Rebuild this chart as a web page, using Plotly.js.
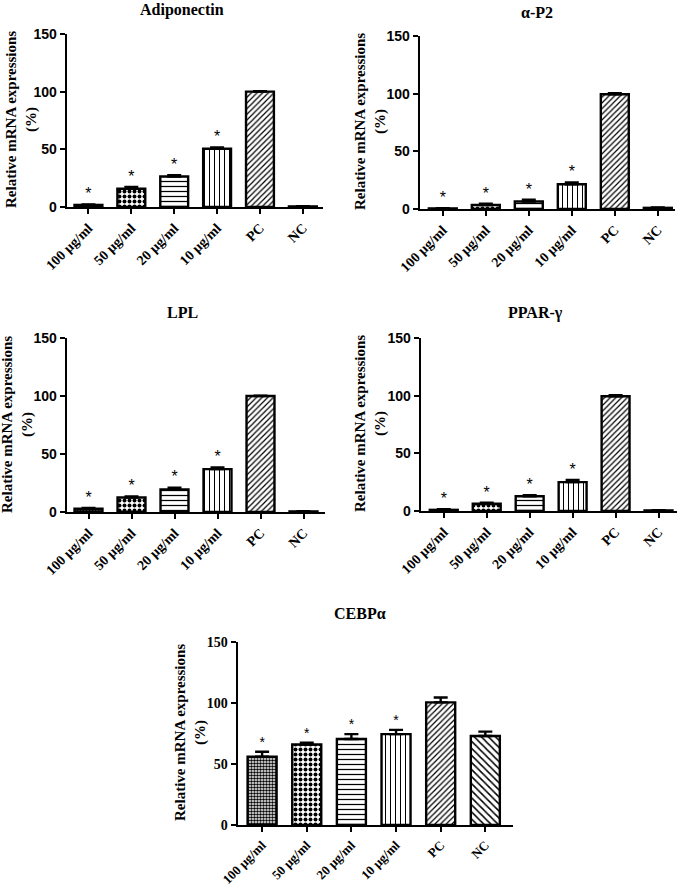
<!DOCTYPE html>
<html>
<head>
<meta charset="utf-8">
<script src="https://cdn.plot.ly/plotly-3.0.1.min.js"></script>
<style>
  html, body { margin: 0; padding: 0; background: #fff; }
  #chart { width: 685px; height: 887px; }
</style>
</head>
<body>
<div id="chart"></div>
<script>
// category labels shared by every panel
const categories = ["100 µg/ml", "50 µg/ml", "20 µg/ml", "10 µg/ml", "PC", "NC"];
const starLabels = ["*", "*", "*", "*", "", ""];

// values (% of PC) and upper error bars
const adiponectin = [1.8, 15.8, 26.5, 50.5, 100, 0.5];
const adiponectinErr = [0.4, 1.6, 1.0, 1.2, 0.5, 0.2];

const aP2 = [0.5, 3.5, 6.5, 21.5, 99.5, 1.0];
const aP2Err = [0.3, 1.0, 1.5, 1.5, 1.0, 0.3];

const lpl = [2.8, 12.5, 19.5, 37, 100, 0.5];
const lplErr = [0.6, 1.0, 1.5, 1.5, 0.3, 0.2];

const pparG = [1.0, 6.3, 12.8, 25.0, 99.5, 0.5];
const pparGErr = [0.5, 0.8, 1.0, 2.0, 1.0, 0.2];

const cebpa = [56, 66, 70.5, 74.5, 100.5, 73];
const cebpaErr = [4, 1.5, 4, 3.5, 4, 3.5];

const yTicks = [0, 50, 100, 150];

// fill patterns per category
const patShape = [".", ".", "-", "|", "/", "\\"];
const patSize = [3, 5, 5, 5, 4, 5];
const patSolid = [0.55, 0.5, 0.25, 0.2, 0.3, 0.3];

const serif = "Liberation Serif";
const sans = "Liberation Sans";

function barTrace(vals, errs, n) {
  return {
    type: "bar",
    x: categories,
    y: vals,
    xaxis: "x" + (n === 1 ? "" : n),
    yaxis: "y" + (n === 1 ? "" : n),
    width: 0.65,
    marker: {
      color: "white",
      line: { color: "black", width: 2.4 },
      pattern: {
        shape: patShape,
        size: patSize,
        solidity: patSolid,
        fgcolor: "black",
        bgcolor: "white",
        fgopacity: 1,
        fillmode: "overlay",
      },
    },
    error_y: {
      type: "data",
      symmetric: false,
      array: errs,
      arrayminus: errs.map(() => 0),
      color: "black",
      thickness: 2.4,
      width: 7,
    },
    hoverinfo: "skip",
    showlegend: false,
  };
}

function starTrace(vals, errs, n, size) {
  return {
    type: "scatter",
    mode: "text",
    x: categories,
    y: vals.map((v, i) => v + errs[i] + 1),
    text: starLabels,
    textposition: "top center",
    textfont: { family: sans, size: size, color: "black" },
    xaxis: "x" + (n === 1 ? "" : n),
    yaxis: "y" + (n === 1 ? "" : n),
    cliponaxis: false,
    hoverinfo: "skip",
    showlegend: false,
  };
}

function xAxis(domain, range, anchor, fontSize) {
  return {
    domain: domain,
    range: range,
    anchor: anchor,
    type: "category",
    showline: true,
    linewidth: 2.4,
    linecolor: "black",
    ticks: "outside",
    ticklen: 5,
    tickwidth: 2,
    tickcolor: "black",
    tickangle: -45,
    tickfont: { family: serif, size: fontSize, color: "black", weight: "bold" },
    showgrid: false,
    zeroline: false,
    fixedrange: true,
  };
}

function yAxis(domain, anchor, fontFamily) {
  return {
    domain: domain,
    anchor: anchor,
    range: [0, 150],
    tickvals: yTicks,
    showline: true,
    linewidth: 2.4,
    linecolor: "black",
    ticks: "outside",
    ticklen: 5,
    tickwidth: 2,
    tickcolor: "black",
    tickfont: { family: fontFamily, size: 14, color: "black", weight: "bold" },
    showgrid: false,
    zeroline: false,
    fixedrange: true,
  };
}

const W = 685, H = 887;
const px = (v) => v / W;
const py = (v) => 1 - v / H;

function panelTitle(text, x, y) {
  return {
    text: text, xref: "paper", yref: "paper",
    x: px(x), y: py(y), xanchor: "center", yanchor: "middle",
    showarrow: false,
    font: { family: serif, size: 16, color: "black", weight: "bold" },
  };
}

function yTitle(x, y) {
  return {
    text: "Relative mRNA expressions<br>(%)", xref: "paper", yref: "paper",
    x: px(x), y: py(y), xanchor: "center", yanchor: "middle",
    textangle: -90, showarrow: false,
    font: { family: serif, size: 15, color: "black", weight: "bold" },
  };
}

const data = [
  barTrace(adiponectin, adiponectinErr, 1), starTrace(adiponectin, adiponectinErr, 1, 16),
  barTrace(aP2, aP2Err, 2), starTrace(aP2, aP2Err, 2, 16),
  barTrace(lpl, lplErr, 3), starTrace(lpl, lplErr, 3, 16),
  barTrace(pparG, pparGErr, 4), starTrace(pparG, pparGErr, 4, 16),
  barTrace(cebpa, cebpaErr, 5), starTrace(cebpa, cebpaErr, 5, 14),
];

const layout = {
  width: W,
  height: H,
  margin: { l: 0, r: 0, t: 0, b: 0 },
  paper_bgcolor: "white",
  plot_bgcolor: "white",
  showlegend: false,
  xaxis: xAxis([px(67), px(323)], [-0.5, 5.47], "y", 14),
  yaxis: yAxis([py(207), py(34)], "x", sans),
  xaxis2: xAxis([px(420), px(675)], [-0.53, 5.4], "y2", 14),
  yaxis2: yAxis([py(209), py(36)], "x2", sans),
  xaxis3: xAxis([px(67), px(325)], [-0.5, 5.5], "y3", 14),
  yaxis3: yAxis([py(512), py(338)], "x3", sans),
  xaxis4: xAxis([px(421), px(677)], [-0.53, 5.43], "y4", 14),
  yaxis4: yAxis([py(511), py(338)], "x4", sans),
  xaxis5: xAxis([px(238), px(513)], [-0.54, 5.62], "y5", 13),
  yaxis5: yAxis([py(825), py(642)], "x5", serif),
  annotations: [
    panelTitle("Adiponectin", 182, 10),
    panelTitle("α-P2", 537, 13),
    panelTitle("LPL", 182, 312),
    panelTitle("PPAR-γ", 535, 313),
    panelTitle("CEBPα", 360, 613),
    yTitle(21, 120),
    yTitle(371, 122),
    yTitle(17, 425),
    yTitle(371, 424),
    yTitle(190, 733),
  ],
};

Plotly.newPlot("chart", data, layout, { staticPlot: true });
</script>
</body>
</html>
